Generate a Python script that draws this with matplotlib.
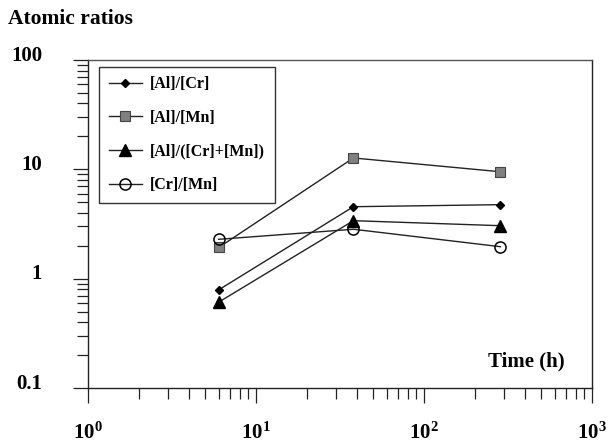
import matplotlib
matplotlib.use('Agg')
import matplotlib.pyplot as plt
import matplotlib.transforms as mtransforms
from matplotlib.ticker import FixedLocator, LogLocator, NullFormatter

plt.rcParams['font.family'] = 'Liberation Serif'
plt.rcParams['font.weight'] = 'bold'
plt.rcParams['mathtext.fontset'] = 'custom'
plt.rcParams['mathtext.rm'] = 'Liberation Serif:bold'
plt.rcParams['mathtext.it'] = 'Liberation Serif:bold'
plt.rcParams['mathtext.bf'] = 'Liberation Serif:bold'

# data
time_h = [6, 38, 285]
al_cr = [0.79, 4.55, 4.75]
al_mn = [1.93, 12.7, 9.5]
al_crmn = [0.61, 3.39, 3.05]
cr_mn = [2.29, 2.83, 1.96]

x_ticks = [1, 10, 100, 1000]
x_labels = [r'$10^{0}$', r'$10^{1}$', r'$10^{2}$', r'$10^{3}$']
y_ticks = [0.1, 1, 10, 100]
y_labels = ['0.1', '1', '10', '100']

fig = plt.figure(figsize=(6.1, 4.43), dpi=100)
ax = fig.add_axes([0.1443, 0.1242, 0.8262, 0.7404])

lc = '#222222'
ax.plot(time_h, al_cr, color=lc, lw=1.0, marker='D', ms=4.5,
        mfc='black', mec='black', label='[Al]/[Cr]')
ax.plot(time_h, al_mn, color=lc, lw=1.0, marker='s', ms=6.5,
        mfc='#808080', mec='#444444', mew=0.8, label='[Al]/[Mn]')
ax.plot(time_h, al_crmn, color=lc, lw=1.0, marker='^', ms=9,
        mfc='black', mec='black', label='[Al]/([Cr]+[Mn])')
ax.plot(time_h, cr_mn, color=lc, lw=1.0, marker='o', ms=8,
        mfc='none', mec='black', mew=1.1, label='[Cr]/[Mn]')

ax.set_xscale('log')
ax.set_yscale('log')
ax.set_xlim(1, 1000)
ax.set_ylim(0.1, 100)

ax.xaxis.set_major_locator(FixedLocator(x_ticks))
ax.set_xticklabels(x_labels, fontsize=15)
ax.yaxis.set_major_locator(FixedLocator(y_ticks))
ax.set_yticklabels(y_labels, fontsize=15, fontweight='bold')
ax.xaxis.set_minor_locator(LogLocator(base=10, subs=range(2, 10)))
ax.yaxis.set_minor_locator(LogLocator(base=10, subs=range(2, 10)))
ax.xaxis.set_minor_formatter(NullFormatter())
ax.yaxis.set_minor_formatter(NullFormatter())

ax.tick_params(axis='x', which='major', direction='out', length=11,
               width=0.9, color=lc, pad=14)
ax.tick_params(axis='x', which='minor', direction='out', length=8,
               width=0.9, color=lc)
ax.tick_params(axis='y', which='major', direction='out', length=11,
               width=0.9, color=lc, pad=22)
ax.tick_params(axis='y', which='minor', direction='out', length=8,
               width=0.9, color=lc)

# y labels sit a little above their ticks in the original
shift = mtransforms.ScaledTranslation(0, 5 / 72, fig.dpi_scale_trans)
for lab in ax.get_yticklabels():
    lab.set_transform(lab.get_transform() + shift)

for side in ['left', 'bottom', 'right']:
    ax.spines[side].set_linewidth(1.0)
    ax.spines[side].set_color(lc)
ax.spines['top'].set_linewidth(1.0)
ax.spines['top'].set_color('#555555')

leg = ax.legend(loc='upper left', bbox_to_anchor=(0.022, 0.979),
                borderaxespad=0, fancybox=False,
                handlelength=2.1, handletextpad=0.5, labelspacing=1.1,
                borderpad=0.6, prop={'weight': 'bold', 'size': 11.5})
leg.get_frame().set_edgecolor('black')
leg.get_frame().set_linewidth(1.0)

ax.text(0.87, 0.08, 'Time (h)', transform=ax.transAxes, fontsize=15,
        fontweight='bold', ha='center', va='center')
fig.text(0.013, 0.958, 'Atomic ratios', fontsize=15.5, fontweight='bold',
         ha='left', va='center')

fig.savefig('out.png', dpi=100)
